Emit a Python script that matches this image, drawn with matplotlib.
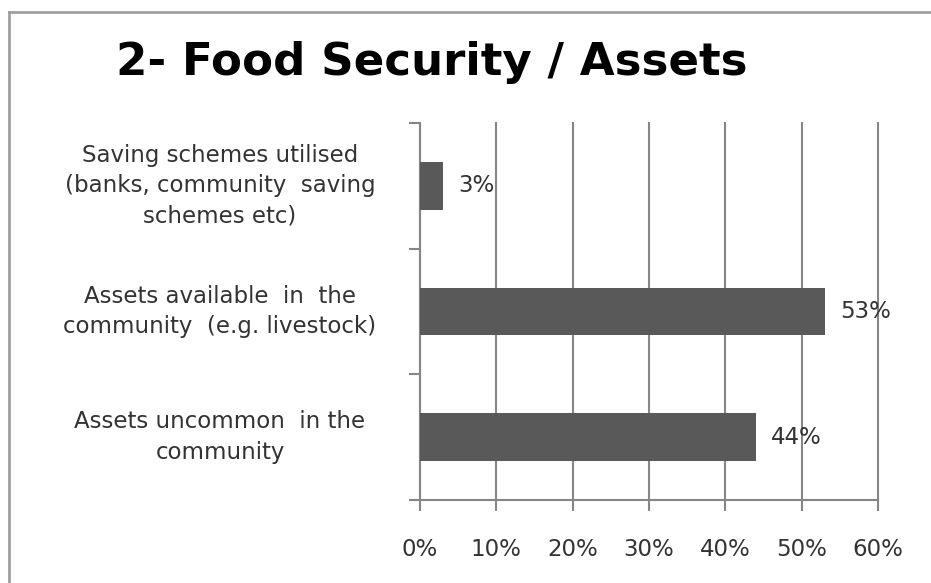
import matplotlib
matplotlib.use('Agg')
from matplotlib import pyplot as pl
from matplotlib import transforms
from matplotlib.lines import Line2D

# Survey shares (percent), listed bottom to top
labels = ['Assets uncommon  in the\ncommunity',
          'Assets available  in  the\ncommunity  (e.g. livestock)',
          'Saving schemes utilised\n(banks, community  saving\nschemes etc)']
values = [44, 53, 3]
xticks = [0, 10, 20, 30, 40, 50, 60]

grey = '#868686'
barcolor = '#595959'
textcolor = '#333333'
fsize = 16.5

fig = pl.figure(figsize=(9.31, 5.83), dpi=100)
ax = fig.add_axes([420/931, 1-500/583, 458/931, 377/583])

pos = range(len(values))
ax.barh(pos, values, height=0.38, color=barcolor, zorder=3)

for y, v in zip(pos, values):
    ax.annotate(str(v)+'%', (v, y), xytext=(11, 0), textcoords='offset points',
                va='center', ha='left', fontsize=fsize, color=textcolor, zorder=4)

ax.set_xlim(0, 60)
ax.set_ylim(-0.5, len(values)-0.5)

ax.set_xticks(xticks)
ax.set_xticklabels([str(t)+'%' for t in xticks], fontsize=fsize, color=textcolor)
ax.tick_params(axis='x', length=8, width=1.5, color=grey, pad=19)
ax.xaxis.grid(True, color=grey, linewidth=1.5, zorder=0)
for line in ax.get_xgridlines():
    line.set_clip_on(False)

# Category boundaries get the ticks, names are placed at the centres
ax.set_yticks([-0.5, 0.5, 1.5, 2.5])
ax.set_yticklabels([])
ax.tick_params(axis='y', length=8, width=1.5, color=grey)

trans = transforms.blended_transform_factory(fig.transFigure, ax.transData)
for y, name in zip(pos, labels):
    ax.text(220/931, y, name, transform=trans, ha='center', va='center',
            multialignment='center', fontsize=fsize, color=textcolor,
            linespacing=1.42)

for side in ['top', 'right']:
    ax.spines[side].set_visible(False)
for side in ['left', 'bottom']:
    ax.spines[side].set_color(grey)
    ax.spines[side].set_linewidth(1.5)

# Outer chart frame (top and left edges only)
fig.add_artist(Line2D([9/931, 1], [1-12/583, 1-12/583], color='#a0a0a0',
                      linewidth=2, transform=fig.transFigure))
fig.add_artist(Line2D([9/931, 9/931], [0, 1-12/583], color='#a0a0a0',
                      linewidth=2, transform=fig.transFigure))

fig.text(432/931, 1-63/583, '2- Food Security / Assets', ha='center',
         va='center', fontsize=32.5, fontweight='bold', family='DejaVu Sans',
         color='black')

pl.savefig('out.png', dpi=100)
pl.close('all')
